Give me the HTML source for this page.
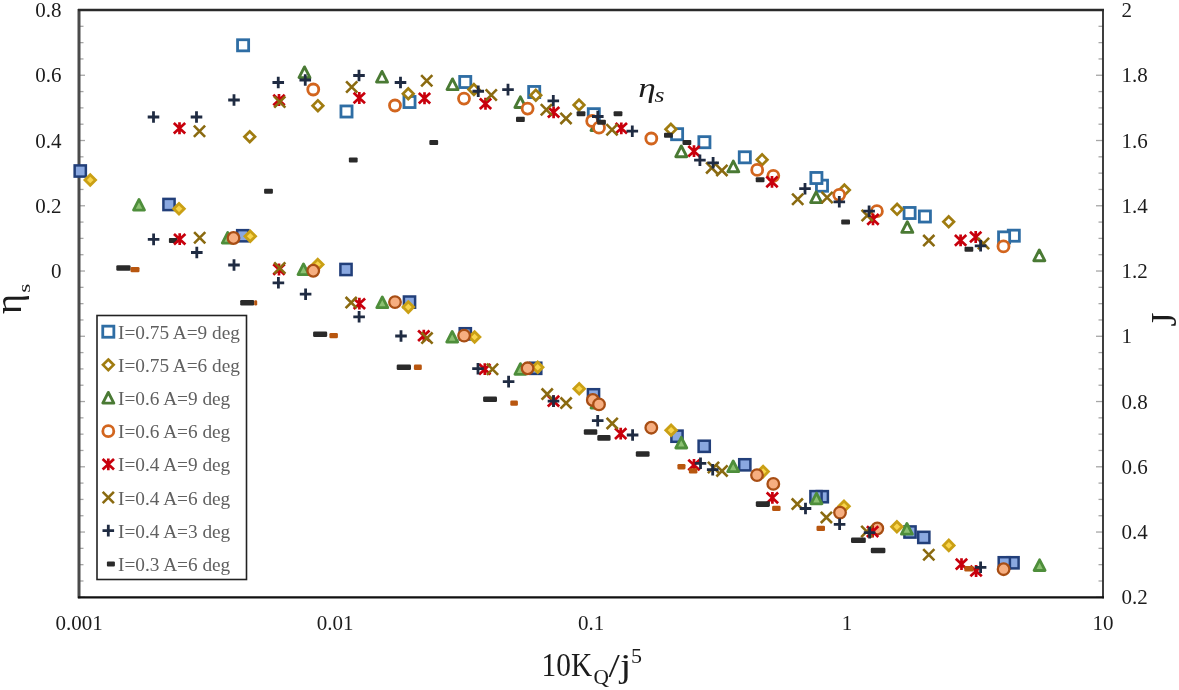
<!DOCTYPE html>
<html lang="en"><head><meta charset="utf-8"><title>Chart</title>
<style>
html,body{margin:0;padding:0;background:#fff;}
body{width:1179px;height:690px;overflow:hidden;}
svg{display:block;filter:blur(0.45px);}
text{font-family:"Liberation Serif","DejaVu Serif",serif;}
</style></head><body>
<svg width="1179" height="690" viewBox="0 0 1179 690">
<rect x="0" y="0" width="1179" height="690" fill="#ffffff"/>

<g stroke="#a6a6a6" stroke-width="1.3">
<line x1="79" y1="10.00" x2="85" y2="10.00"/>
<line x1="1096" y1="10.00" x2="1103" y2="10.00"/>
<line x1="79" y1="26.31" x2="83.5" y2="26.31"/>
<line x1="1098.5" y1="26.31" x2="1103" y2="26.31"/>
<line x1="79" y1="42.63" x2="83.5" y2="42.63"/>
<line x1="1098.5" y1="42.63" x2="1103" y2="42.63"/>
<line x1="79" y1="58.94" x2="83.5" y2="58.94"/>
<line x1="1098.5" y1="58.94" x2="1103" y2="58.94"/>
<line x1="79" y1="75.26" x2="85" y2="75.26"/>
<line x1="1096" y1="75.26" x2="1103" y2="75.26"/>
<line x1="79" y1="91.57" x2="83.5" y2="91.57"/>
<line x1="1098.5" y1="91.57" x2="1103" y2="91.57"/>
<line x1="79" y1="107.88" x2="83.5" y2="107.88"/>
<line x1="1098.5" y1="107.88" x2="1103" y2="107.88"/>
<line x1="79" y1="124.20" x2="83.5" y2="124.20"/>
<line x1="1098.5" y1="124.20" x2="1103" y2="124.20"/>
<line x1="79" y1="140.51" x2="85" y2="140.51"/>
<line x1="1096" y1="140.51" x2="1103" y2="140.51"/>
<line x1="79" y1="156.82" x2="83.5" y2="156.82"/>
<line x1="1098.5" y1="156.82" x2="1103" y2="156.82"/>
<line x1="79" y1="173.14" x2="83.5" y2="173.14"/>
<line x1="1098.5" y1="173.14" x2="1103" y2="173.14"/>
<line x1="79" y1="189.45" x2="83.5" y2="189.45"/>
<line x1="1098.5" y1="189.45" x2="1103" y2="189.45"/>
<line x1="79" y1="205.77" x2="85" y2="205.77"/>
<line x1="1096" y1="205.77" x2="1103" y2="205.77"/>
<line x1="79" y1="222.08" x2="83.5" y2="222.08"/>
<line x1="1098.5" y1="222.08" x2="1103" y2="222.08"/>
<line x1="79" y1="238.39" x2="83.5" y2="238.39"/>
<line x1="1098.5" y1="238.39" x2="1103" y2="238.39"/>
<line x1="79" y1="254.71" x2="83.5" y2="254.71"/>
<line x1="1098.5" y1="254.71" x2="1103" y2="254.71"/>
<line x1="79" y1="271.02" x2="85" y2="271.02"/>
<line x1="1096" y1="271.02" x2="1103" y2="271.02"/>
<line x1="79" y1="287.34" x2="83.5" y2="287.34"/>
<line x1="1098.5" y1="287.34" x2="1103" y2="287.34"/>
<line x1="79" y1="303.65" x2="83.5" y2="303.65"/>
<line x1="1098.5" y1="303.65" x2="1103" y2="303.65"/>
<line x1="79" y1="319.96" x2="83.5" y2="319.96"/>
<line x1="1098.5" y1="319.96" x2="1103" y2="319.96"/>
<line x1="79" y1="336.28" x2="85" y2="336.28"/>
<line x1="1096" y1="336.28" x2="1103" y2="336.28"/>
<line x1="79" y1="352.59" x2="83.5" y2="352.59"/>
<line x1="1098.5" y1="352.59" x2="1103" y2="352.59"/>
<line x1="79" y1="368.91" x2="83.5" y2="368.91"/>
<line x1="1098.5" y1="368.91" x2="1103" y2="368.91"/>
<line x1="79" y1="385.22" x2="83.5" y2="385.22"/>
<line x1="1098.5" y1="385.22" x2="1103" y2="385.22"/>
<line x1="79" y1="401.53" x2="85" y2="401.53"/>
<line x1="1096" y1="401.53" x2="1103" y2="401.53"/>
<line x1="79" y1="417.85" x2="83.5" y2="417.85"/>
<line x1="1098.5" y1="417.85" x2="1103" y2="417.85"/>
<line x1="79" y1="434.16" x2="83.5" y2="434.16"/>
<line x1="1098.5" y1="434.16" x2="1103" y2="434.16"/>
<line x1="79" y1="450.47" x2="83.5" y2="450.47"/>
<line x1="1098.5" y1="450.47" x2="1103" y2="450.47"/>
<line x1="79" y1="466.79" x2="85" y2="466.79"/>
<line x1="1096" y1="466.79" x2="1103" y2="466.79"/>
<line x1="79" y1="483.10" x2="83.5" y2="483.10"/>
<line x1="1098.5" y1="483.10" x2="1103" y2="483.10"/>
<line x1="79" y1="499.42" x2="83.5" y2="499.42"/>
<line x1="1098.5" y1="499.42" x2="1103" y2="499.42"/>
<line x1="79" y1="515.73" x2="83.5" y2="515.73"/>
<line x1="1098.5" y1="515.73" x2="1103" y2="515.73"/>
<line x1="79" y1="532.04" x2="85" y2="532.04"/>
<line x1="1096" y1="532.04" x2="1103" y2="532.04"/>
<line x1="79" y1="548.36" x2="83.5" y2="548.36"/>
<line x1="1098.5" y1="548.36" x2="1103" y2="548.36"/>
<line x1="79" y1="564.67" x2="83.5" y2="564.67"/>
<line x1="1098.5" y1="564.67" x2="1103" y2="564.67"/>
<line x1="79" y1="580.99" x2="83.5" y2="580.99"/>
<line x1="1098.5" y1="580.99" x2="1103" y2="580.99"/>
<line x1="79" y1="597.30" x2="85" y2="597.30"/>
<line x1="1096" y1="597.30" x2="1103" y2="597.30"/>
</g>
<line x1="79" y1="9" x2="79" y2="598.3" stroke="#4a4a4a" stroke-width="3"/>
<line x1="78" y1="10" x2="1104" y2="10" stroke="#2a2a2a" stroke-width="2.3"/>
<line x1="1103" y1="9" x2="1103" y2="598.3" stroke="#2a2a2a" stroke-width="1.8"/>
<line x1="78" y1="597.3" x2="1104" y2="597.3" stroke="#111" stroke-width="2.2"/>
<g font-size="21" fill="#1c1c1c">
<text x="61.5" y="17.0" text-anchor="end">0.8</text>
<text x="61.5" y="82.3" text-anchor="end">0.6</text>
<text x="61.5" y="147.5" text-anchor="end">0.4</text>
<text x="61.5" y="212.8" text-anchor="end">0.2</text>
<text x="61.5" y="278.0" text-anchor="end">0</text>
<text x="1121.5" y="17.0">2</text>
<text x="1121.5" y="82.3">1.8</text>
<text x="1121.5" y="147.5">1.6</text>
<text x="1121.5" y="212.8">1.4</text>
<text x="1121.5" y="278.0">1.2</text>
<text x="1121.5" y="343.3">1</text>
<text x="1121.5" y="408.5">0.8</text>
<text x="1121.5" y="473.8">0.6</text>
<text x="1121.5" y="539.0">0.4</text>
<text x="1121.5" y="604.3">0.2</text>
<text x="79" y="630" text-anchor="middle">0.001</text>
<text x="335" y="630" text-anchor="middle">0.01</text>
<text x="591" y="630" text-anchor="middle">0.1</text>
<text x="847" y="630" text-anchor="middle">1</text>
<text x="1103" y="630" text-anchor="middle">10</text>
</g>
<text transform="translate(20.8,314.1) rotate(-90)" font-size="38.5" fill="#1c1c1c">η</text>
<text transform="translate(30.3,292.8) rotate(-90) scale(1.35,1)" font-size="17.5" fill="#1c1c1c">s</text>
<text transform="translate(1176,326.5) rotate(-90)" font-size="36" fill="#1c1c1c">J</text>
<text x="541.6" y="676.3" font-size="33" fill="#1c1c1c" textLength="50.5" lengthAdjust="spacingAndGlyphs">10K</text>
<text x="593.6" y="684" font-size="22" fill="#1c1c1c" textLength="15.4" lengthAdjust="spacingAndGlyphs">Q</text>
<text x="608.6" y="676.6" font-size="34" fill="#1c1c1c" textLength="22.6" lengthAdjust="spacingAndGlyphs">/j</text>
<text x="631" y="663.1" font-size="22" fill="#1c1c1c">5</text>
<text x="638.2" y="96.8" font-size="28" font-style="italic" fill="#1c1c1c" textLength="17.5" lengthAdjust="spacingAndGlyphs">η</text>
<text x="654.6" y="102" font-size="22" font-style="italic" fill="#1c1c1c" textLength="10" lengthAdjust="spacingAndGlyphs">s</text>
<g id="upper">
<rect x="237.55" y="39.75" width="11.1" height="11.1" fill="#fff" stroke="#2e6da4" stroke-width="2.8"/>
<rect x="340.95" y="105.95" width="11.1" height="11.1" fill="#fff" stroke="#2e6da4" stroke-width="2.8"/>
<rect x="403.95" y="96.45" width="11.1" height="11.1" fill="#fff" stroke="#2e6da4" stroke-width="2.8"/>
<rect x="459.70" y="76.45" width="11.1" height="11.1" fill="#fff" stroke="#2e6da4" stroke-width="2.8"/>
<rect x="528.65" y="86.45" width="11.1" height="11.1" fill="#fff" stroke="#2e6da4" stroke-width="2.8"/>
<rect x="588.25" y="108.65" width="11.1" height="11.1" fill="#fff" stroke="#2e6da4" stroke-width="2.8"/>
<rect x="671.55" y="128.65" width="11.1" height="11.1" fill="#fff" stroke="#2e6da4" stroke-width="2.8"/>
<rect x="698.85" y="136.65" width="11.1" height="11.1" fill="#fff" stroke="#2e6da4" stroke-width="2.8"/>
<rect x="739.25" y="151.75" width="11.1" height="11.1" fill="#fff" stroke="#2e6da4" stroke-width="2.8"/>
<rect x="816.45" y="180.15" width="11.1" height="11.1" fill="#fff" stroke="#2e6da4" stroke-width="2.8"/>
<rect x="810.85" y="172.45" width="11.1" height="11.1" fill="#fff" stroke="#2e6da4" stroke-width="2.8"/>
<rect x="904.05" y="207.45" width="11.1" height="11.1" fill="#fff" stroke="#2e6da4" stroke-width="2.8"/>
<rect x="919.35" y="210.95" width="11.1" height="11.1" fill="#fff" stroke="#2e6da4" stroke-width="2.8"/>
<rect x="1008.25" y="230.15" width="11.1" height="11.1" fill="#fff" stroke="#2e6da4" stroke-width="2.8"/>
<rect x="998.55" y="231.85" width="11.1" height="11.1" fill="#fff" stroke="#2e6da4" stroke-width="2.8"/>
<polygon points="249.75,131.45 255.05,136.75 249.75,142.05 244.45,136.75" fill="#fff" stroke="#a07c10" stroke-width="2.7"/>
<polygon points="317.90,100.40 323.20,105.70 317.90,111.00 312.60,105.70" fill="#fff" stroke="#a07c10" stroke-width="2.7"/>
<polygon points="408.25,88.45 413.55,93.75 408.25,99.05 402.95,93.75" fill="#fff" stroke="#a07c10" stroke-width="2.7"/>
<polygon points="473.90,84.20 479.20,89.50 473.90,94.80 468.60,89.50" fill="#fff" stroke="#a07c10" stroke-width="2.7"/>
<polygon points="535.80,89.90 541.10,95.20 535.80,100.50 530.50,95.20" fill="#fff" stroke="#a07c10" stroke-width="2.7"/>
<polygon points="579.00,99.70 584.30,105.00 579.00,110.30 573.70,105.00" fill="#fff" stroke="#a07c10" stroke-width="2.7"/>
<polygon points="670.90,124.00 676.20,129.30 670.90,134.60 665.60,129.30" fill="#fff" stroke="#a07c10" stroke-width="2.7"/>
<polygon points="762.10,154.40 767.40,159.70 762.10,165.00 756.80,159.70" fill="#fff" stroke="#a07c10" stroke-width="2.7"/>
<polygon points="844.40,184.70 849.70,190.00 844.40,195.30 839.10,190.00" fill="#fff" stroke="#a07c10" stroke-width="2.7"/>
<polygon points="897.10,204.00 902.40,209.30 897.10,214.60 891.80,209.30" fill="#fff" stroke="#a07c10" stroke-width="2.7"/>
<polygon points="948.70,216.50 954.00,221.80 948.70,227.10 943.40,221.80" fill="#fff" stroke="#a07c10" stroke-width="2.7"/>
<polygon points="304.50,66.90 310.00,77.60 299.00,77.60" fill="#fff" stroke="#4a7a34" stroke-width="2.9" stroke-linejoin="round"/>
<polygon points="382.00,71.40 387.50,82.10 376.50,82.10" fill="#fff" stroke="#4a7a34" stroke-width="2.9" stroke-linejoin="round"/>
<polygon points="452.50,78.90 458.00,89.60 447.00,89.60" fill="#fff" stroke="#4a7a34" stroke-width="2.9" stroke-linejoin="round"/>
<polygon points="520.40,96.80 525.90,107.50 514.90,107.50" fill="#fff" stroke="#4a7a34" stroke-width="2.9" stroke-linejoin="round"/>
<polygon points="596.50,119.90 602.00,130.60 591.00,130.60" fill="#fff" stroke="#4a7a34" stroke-width="2.9" stroke-linejoin="round"/>
<polygon points="681.30,146.00 686.80,156.70 675.80,156.70" fill="#fff" stroke="#4a7a34" stroke-width="2.9" stroke-linejoin="round"/>
<polygon points="733.30,161.10 738.80,171.80 727.80,171.80" fill="#fff" stroke="#4a7a34" stroke-width="2.9" stroke-linejoin="round"/>
<polygon points="816.10,191.90 821.60,202.60 810.60,202.60" fill="#fff" stroke="#4a7a34" stroke-width="2.9" stroke-linejoin="round"/>
<polygon points="907.30,221.70 912.80,232.40 901.80,232.40" fill="#fff" stroke="#4a7a34" stroke-width="2.9" stroke-linejoin="round"/>
<polygon points="1039.30,250.00 1044.80,260.70 1033.80,260.70" fill="#fff" stroke="#4a7a34" stroke-width="2.9" stroke-linejoin="round"/>
<circle cx="313.25" cy="89.50" r="5.5" fill="#fff" stroke="#d2651e" stroke-width="2.8"/>
<circle cx="395.00" cy="105.50" r="5.5" fill="#fff" stroke="#d2651e" stroke-width="2.8"/>
<circle cx="464.00" cy="98.60" r="5.5" fill="#fff" stroke="#d2651e" stroke-width="2.8"/>
<circle cx="527.60" cy="108.60" r="5.5" fill="#fff" stroke="#d2651e" stroke-width="2.8"/>
<circle cx="592.20" cy="121.00" r="5.5" fill="#fff" stroke="#d2651e" stroke-width="2.8"/>
<circle cx="599.00" cy="127.70" r="5.5" fill="#fff" stroke="#d2651e" stroke-width="2.8"/>
<circle cx="651.30" cy="138.50" r="5.5" fill="#fff" stroke="#d2651e" stroke-width="2.8"/>
<circle cx="757.20" cy="169.90" r="5.5" fill="#fff" stroke="#d2651e" stroke-width="2.8"/>
<circle cx="773.30" cy="175.80" r="5.5" fill="#fff" stroke="#d2651e" stroke-width="2.8"/>
<circle cx="839.20" cy="194.80" r="5.5" fill="#fff" stroke="#d2651e" stroke-width="2.8"/>
<circle cx="876.90" cy="211.20" r="5.5" fill="#fff" stroke="#d2651e" stroke-width="2.8"/>
<circle cx="1003.50" cy="246.40" r="5.5" fill="#fff" stroke="#d2651e" stroke-width="2.8"/>
<path d="M173.80,122.95L185.20,133.55M173.80,133.55L185.20,122.95M179.50,122.35L179.50,134.15" stroke="#c8000c" stroke-width="2.7" fill="none"/>
<path d="M273.30,94.70L284.70,105.30M273.30,105.30L284.70,94.70M279.00,94.10L279.00,105.90" stroke="#c8000c" stroke-width="2.7" fill="none"/>
<path d="M353.60,92.70L365.00,103.30M353.60,103.30L365.00,92.70M359.30,92.10L359.30,103.90" stroke="#c8000c" stroke-width="2.7" fill="none"/>
<path d="M418.80,92.95L430.20,103.55M418.80,103.55L430.20,92.95M424.50,92.35L424.50,104.15" stroke="#c8000c" stroke-width="2.7" fill="none"/>
<path d="M479.80,98.45L491.20,109.05M479.80,109.05L491.20,98.45M485.50,97.85L485.50,109.65" stroke="#c8000c" stroke-width="2.7" fill="none"/>
<path d="M547.90,107.00L559.30,117.60M547.90,117.60L559.30,107.00M553.60,106.40L553.60,118.20" stroke="#c8000c" stroke-width="2.7" fill="none"/>
<path d="M615.60,123.00L627.00,133.60M615.60,133.60L627.00,123.00M621.30,122.40L621.30,134.20" stroke="#c8000c" stroke-width="2.7" fill="none"/>
<path d="M688.30,145.90L699.70,156.50M688.30,156.50L699.70,145.90M694.00,145.30L694.00,157.10" stroke="#c8000c" stroke-width="2.7" fill="none"/>
<path d="M766.30,176.60L777.70,187.20M766.30,187.20L777.70,176.60M772.00,176.00L772.00,187.80" stroke="#c8000c" stroke-width="2.7" fill="none"/>
<path d="M867.30,214.10L878.70,224.70M867.30,224.70L878.70,214.10M873.00,213.50L873.00,225.30" stroke="#c8000c" stroke-width="2.7" fill="none"/>
<path d="M954.90,235.10L966.30,245.70M954.90,245.70L966.30,235.10M960.60,234.50L960.60,246.30" stroke="#c8000c" stroke-width="2.7" fill="none"/>
<path d="M970.00,231.70L981.40,242.30M970.00,242.30L981.40,231.70M975.70,231.10L975.70,242.90" stroke="#c8000c" stroke-width="2.7" fill="none"/>
<path d="M193.90,125.65L205.10,136.85M193.90,136.85L205.10,125.65" stroke="#8a6a10" stroke-width="2.6" fill="none"/>
<path d="M274.15,96.40L285.35,107.60M274.15,107.60L285.35,96.40" stroke="#8a6a10" stroke-width="2.6" fill="none"/>
<path d="M346.10,81.40L357.30,92.60M346.10,92.60L357.30,81.40" stroke="#8a6a10" stroke-width="2.6" fill="none"/>
<path d="M421.15,75.15L432.35,86.35M421.15,86.35L432.35,75.15" stroke="#8a6a10" stroke-width="2.6" fill="none"/>
<path d="M485.65,89.40L496.85,100.60M485.65,100.60L496.85,89.40" stroke="#8a6a10" stroke-width="2.6" fill="none"/>
<path d="M540.80,104.20L552.00,115.40M540.80,115.40L552.00,104.20" stroke="#8a6a10" stroke-width="2.6" fill="none"/>
<path d="M560.40,112.80L571.60,124.00M560.40,124.00L571.60,112.80" stroke="#8a6a10" stroke-width="2.6" fill="none"/>
<path d="M606.40,124.20L617.60,135.40M606.40,135.40L617.60,124.20" stroke="#8a6a10" stroke-width="2.6" fill="none"/>
<path d="M706.10,162.30L717.30,173.50M706.10,173.50L717.30,162.30" stroke="#8a6a10" stroke-width="2.6" fill="none"/>
<path d="M716.30,164.80L727.50,176.00M716.30,176.00L727.50,164.80" stroke="#8a6a10" stroke-width="2.6" fill="none"/>
<path d="M792.10,193.60L803.30,204.80M792.10,204.80L803.30,193.60" stroke="#8a6a10" stroke-width="2.6" fill="none"/>
<path d="M821.50,191.90L832.70,203.10M821.50,203.10L832.70,191.90" stroke="#8a6a10" stroke-width="2.6" fill="none"/>
<path d="M861.60,209.90L872.80,221.10M861.60,221.10L872.80,209.90" stroke="#8a6a10" stroke-width="2.6" fill="none"/>
<path d="M923.20,235.00L934.40,246.20M923.20,246.20L934.40,235.00" stroke="#8a6a10" stroke-width="2.6" fill="none"/>
<path d="M977.90,237.90L989.10,249.10M977.90,249.10L989.10,237.90" stroke="#8a6a10" stroke-width="2.6" fill="none"/>
<path d="M147.70,117.00L159.30,117.00M153.50,111.20L153.50,122.80" stroke="#1f2b42" stroke-width="2.8" fill="none"/>
<path d="M190.70,117.00L202.30,117.00M196.50,111.20L196.50,122.80" stroke="#1f2b42" stroke-width="2.8" fill="none"/>
<path d="M228.20,100.00L239.80,100.00M234.00,94.20L234.00,105.80" stroke="#1f2b42" stroke-width="2.8" fill="none"/>
<path d="M272.45,82.50L284.05,82.50M278.25,76.70L278.25,88.30" stroke="#1f2b42" stroke-width="2.8" fill="none"/>
<path d="M299.45,80.00L311.05,80.00M305.25,74.20L305.25,85.80" stroke="#1f2b42" stroke-width="2.8" fill="none"/>
<path d="M353.20,75.50L364.80,75.50M359.00,69.70L359.00,81.30" stroke="#1f2b42" stroke-width="2.8" fill="none"/>
<path d="M394.70,82.50L406.30,82.50M400.50,76.70L400.50,88.30" stroke="#1f2b42" stroke-width="2.8" fill="none"/>
<path d="M472.45,91.25L484.05,91.25M478.25,85.45L478.25,97.05" stroke="#1f2b42" stroke-width="2.8" fill="none"/>
<path d="M502.20,89.60L513.80,89.60M508.00,83.80L508.00,95.40" stroke="#1f2b42" stroke-width="2.8" fill="none"/>
<path d="M547.50,100.80L559.10,100.80M553.30,95.00L553.30,106.60" stroke="#1f2b42" stroke-width="2.8" fill="none"/>
<path d="M592.00,116.50L603.60,116.50M597.80,110.70L597.80,122.30" stroke="#1f2b42" stroke-width="2.8" fill="none"/>
<path d="M626.50,131.20L638.10,131.20M632.30,125.40L632.30,137.00" stroke="#1f2b42" stroke-width="2.8" fill="none"/>
<path d="M694.10,160.20L705.70,160.20M699.90,154.40L699.90,166.00" stroke="#1f2b42" stroke-width="2.8" fill="none"/>
<path d="M707.30,162.80L718.90,162.80M713.10,157.00L713.10,168.60" stroke="#1f2b42" stroke-width="2.8" fill="none"/>
<path d="M799.20,188.70L810.80,188.70M805.00,182.90L805.00,194.50" stroke="#1f2b42" stroke-width="2.8" fill="none"/>
<path d="M833.50,201.80L845.10,201.80M839.30,196.00L839.30,207.60" stroke="#1f2b42" stroke-width="2.8" fill="none"/>
<path d="M863.30,211.20L874.90,211.20M869.10,205.40L869.10,217.00" stroke="#1f2b42" stroke-width="2.8" fill="none"/>
<path d="M974.80,245.80L986.40,245.80M980.60,240.00L980.60,251.60" stroke="#1f2b42" stroke-width="2.8" fill="none"/>
<rect x="264.10" y="188.70" width="8.8" height="5.1" rx="1" fill="#2a2a2a"/>
<rect x="348.85" y="157.45" width="8.8" height="5.1" rx="1" fill="#2a2a2a"/>
<rect x="429.35" y="139.95" width="8.8" height="5.1" rx="1" fill="#2a2a2a"/>
<rect x="516.00" y="116.85" width="8.8" height="5.1" rx="1" fill="#2a2a2a"/>
<rect x="576.60" y="111.25" width="8.8" height="5.1" rx="1" fill="#2a2a2a"/>
<rect x="597.10" y="119.65" width="8.8" height="5.1" rx="1" fill="#2a2a2a"/>
<rect x="613.60" y="111.25" width="8.8" height="5.1" rx="1" fill="#2a2a2a"/>
<rect x="664.00" y="132.65" width="8.8" height="5.1" rx="1" fill="#2a2a2a"/>
<rect x="682.50" y="139.95" width="8.8" height="5.1" rx="1" fill="#2a2a2a"/>
<rect x="755.70" y="177.15" width="8.8" height="5.1" rx="1" fill="#2a2a2a"/>
<rect x="841.20" y="219.45" width="8.8" height="5.1" rx="1" fill="#2a2a2a"/>
<rect x="964.50" y="246.65" width="8.8" height="5.1" rx="1" fill="#2a2a2a"/>
</g>
<g id="lower">
<rect x="74.65" y="165.40" width="11.2" height="11.2" fill="#8aa8e0" stroke="#223f7a" stroke-width="2.5"/>
<rect x="163.40" y="198.90" width="11.2" height="11.2" fill="#8aa8e0" stroke="#223f7a" stroke-width="2.5"/>
<rect x="237.15" y="230.15" width="11.2" height="11.2" fill="#8aa8e0" stroke="#223f7a" stroke-width="2.5"/>
<rect x="340.40" y="263.90" width="11.2" height="11.2" fill="#8aa8e0" stroke="#223f7a" stroke-width="2.5"/>
<rect x="403.90" y="296.50" width="11.2" height="11.2" fill="#8aa8e0" stroke="#223f7a" stroke-width="2.5"/>
<rect x="459.70" y="328.20" width="11.2" height="11.2" fill="#8aa8e0" stroke="#223f7a" stroke-width="2.5"/>
<rect x="530.10" y="362.70" width="11.2" height="11.2" fill="#8aa8e0" stroke="#223f7a" stroke-width="2.5"/>
<rect x="587.90" y="389.20" width="11.2" height="11.2" fill="#8aa8e0" stroke="#223f7a" stroke-width="2.5"/>
<rect x="671.40" y="430.60" width="11.2" height="11.2" fill="#8aa8e0" stroke="#223f7a" stroke-width="2.5"/>
<rect x="698.60" y="440.70" width="11.2" height="11.2" fill="#8aa8e0" stroke="#223f7a" stroke-width="2.5"/>
<rect x="739.20" y="459.20" width="11.2" height="11.2" fill="#8aa8e0" stroke="#223f7a" stroke-width="2.5"/>
<rect x="816.70" y="491.10" width="11.2" height="11.2" fill="#8aa8e0" stroke="#223f7a" stroke-width="2.5"/>
<rect x="810.40" y="491.10" width="11.2" height="11.2" fill="#8aa8e0" stroke="#223f7a" stroke-width="2.5"/>
<rect x="904.40" y="526.40" width="11.2" height="11.2" fill="#8aa8e0" stroke="#223f7a" stroke-width="2.5"/>
<rect x="918.20" y="531.80" width="11.2" height="11.2" fill="#8aa8e0" stroke="#223f7a" stroke-width="2.5"/>
<rect x="1007.40" y="557.20" width="11.2" height="11.2" fill="#8aa8e0" stroke="#223f7a" stroke-width="2.5"/>
<rect x="998.70" y="557.20" width="11.2" height="11.2" fill="#8aa8e0" stroke="#223f7a" stroke-width="2.5"/>
<polygon points="90.25,174.70 95.55,180.00 90.25,185.30 84.95,180.00" fill="#f8d44c" stroke="#caa015" stroke-width="2.8"/>
<polygon points="179.00,203.45 184.30,208.75 179.00,214.05 173.70,208.75" fill="#f8d44c" stroke="#caa015" stroke-width="2.8"/>
<polygon points="250.25,230.95 255.55,236.25 250.25,241.55 244.95,236.25" fill="#f8d44c" stroke="#caa015" stroke-width="2.8"/>
<polygon points="317.75,259.20 323.05,264.50 317.75,269.80 312.45,264.50" fill="#f8d44c" stroke="#caa015" stroke-width="2.8"/>
<polygon points="408.30,301.80 413.60,307.10 408.30,312.40 403.00,307.10" fill="#f8d44c" stroke="#caa015" stroke-width="2.8"/>
<polygon points="474.60,331.70 479.90,337.00 474.60,342.30 469.30,337.00" fill="#f8d44c" stroke="#caa015" stroke-width="2.8"/>
<polygon points="537.70,361.90 543.00,367.20 537.70,372.50 532.40,367.20" fill="#f8d44c" stroke="#caa015" stroke-width="2.8"/>
<polygon points="579.20,383.40 584.50,388.70 579.20,394.00 573.90,388.70" fill="#f8d44c" stroke="#caa015" stroke-width="2.8"/>
<polygon points="671.10,424.90 676.40,430.20 671.10,435.50 665.80,430.20" fill="#f8d44c" stroke="#caa015" stroke-width="2.8"/>
<polygon points="763.10,466.30 768.40,471.60 763.10,476.90 757.80,471.60" fill="#f8d44c" stroke="#caa015" stroke-width="2.8"/>
<polygon points="844.00,501.00 849.30,506.30 844.00,511.60 838.70,506.30" fill="#f8d44c" stroke="#caa015" stroke-width="2.8"/>
<polygon points="896.90,521.50 902.20,526.80 896.90,532.10 891.60,526.80" fill="#f8d44c" stroke="#caa015" stroke-width="2.8"/>
<polygon points="948.80,540.10 954.10,545.40 948.80,550.70 943.50,545.40" fill="#f8d44c" stroke="#caa015" stroke-width="2.8"/>
<polygon points="139.00,199.40 144.50,210.10 133.50,210.10" fill="#8cc172" stroke="#4e8e3b" stroke-width="2.8" stroke-linejoin="round"/>
<polygon points="227.75,232.40 233.25,243.10 222.25,243.10" fill="#8cc172" stroke="#4e8e3b" stroke-width="2.8" stroke-linejoin="round"/>
<polygon points="303.50,263.90 309.00,274.60 298.00,274.60" fill="#8cc172" stroke="#4e8e3b" stroke-width="2.8" stroke-linejoin="round"/>
<polygon points="382.30,297.00 387.80,307.70 376.80,307.70" fill="#8cc172" stroke="#4e8e3b" stroke-width="2.8" stroke-linejoin="round"/>
<polygon points="452.20,331.40 457.70,342.10 446.70,342.10" fill="#8cc172" stroke="#4e8e3b" stroke-width="2.8" stroke-linejoin="round"/>
<polygon points="520.40,363.60 525.90,374.30 514.90,374.30" fill="#8cc172" stroke="#4e8e3b" stroke-width="2.8" stroke-linejoin="round"/>
<polygon points="596.50,397.40 602.00,408.10 591.00,408.10" fill="#8cc172" stroke="#4e8e3b" stroke-width="2.8" stroke-linejoin="round"/>
<polygon points="681.30,437.30 686.80,448.00 675.80,448.00" fill="#8cc172" stroke="#4e8e3b" stroke-width="2.8" stroke-linejoin="round"/>
<polygon points="733.20,461.00 738.70,471.70 727.70,471.70" fill="#8cc172" stroke="#4e8e3b" stroke-width="2.8" stroke-linejoin="round"/>
<polygon points="816.50,493.10 822.00,503.80 811.00,503.80" fill="#8cc172" stroke="#4e8e3b" stroke-width="2.8" stroke-linejoin="round"/>
<polygon points="906.90,523.50 912.40,534.20 901.40,534.20" fill="#8cc172" stroke="#4e8e3b" stroke-width="2.8" stroke-linejoin="round"/>
<polygon points="1039.60,559.80 1045.10,570.50 1034.10,570.50" fill="#8cc172" stroke="#4e8e3b" stroke-width="2.8" stroke-linejoin="round"/>
<circle cx="233.50" cy="238.00" r="5.8" fill="#f6ae80" stroke="#a84e14" stroke-width="2.3"/>
<circle cx="313.25" cy="270.75" r="5.8" fill="#f6ae80" stroke="#a84e14" stroke-width="2.3"/>
<circle cx="395.00" cy="302.10" r="5.8" fill="#f6ae80" stroke="#a84e14" stroke-width="2.3"/>
<circle cx="464.10" cy="335.60" r="5.8" fill="#f6ae80" stroke="#a84e14" stroke-width="2.3"/>
<circle cx="527.60" cy="368.30" r="5.8" fill="#f6ae80" stroke="#a84e14" stroke-width="2.3"/>
<circle cx="592.80" cy="400.00" r="5.8" fill="#f6ae80" stroke="#a84e14" stroke-width="2.3"/>
<circle cx="599.00" cy="404.40" r="5.8" fill="#f6ae80" stroke="#a84e14" stroke-width="2.3"/>
<circle cx="651.30" cy="427.70" r="5.8" fill="#f6ae80" stroke="#a84e14" stroke-width="2.3"/>
<circle cx="757.00" cy="475.10" r="5.8" fill="#f6ae80" stroke="#a84e14" stroke-width="2.3"/>
<circle cx="773.30" cy="483.90" r="5.8" fill="#f6ae80" stroke="#a84e14" stroke-width="2.3"/>
<circle cx="840.00" cy="512.60" r="5.8" fill="#f6ae80" stroke="#a84e14" stroke-width="2.3"/>
<circle cx="877.30" cy="528.50" r="5.8" fill="#f6ae80" stroke="#a84e14" stroke-width="2.3"/>
<circle cx="1003.60" cy="569.20" r="5.8" fill="#f6ae80" stroke="#a84e14" stroke-width="2.3"/>
<rect x="168.90" y="237.95" width="8.8" height="5.1" rx="1" fill="#2a2a2a"/>
<path d="M174.00,233.90L185.40,244.50M174.00,244.50L185.40,233.90M179.70,233.30L179.70,245.10" stroke="#c8000c" stroke-width="2.7" fill="none"/>
<path d="M273.30,264.20L284.70,274.80M273.30,274.80L284.70,264.20M279.00,263.60L279.00,275.40" stroke="#c8000c" stroke-width="2.7" fill="none"/>
<path d="M353.70,298.40L365.10,309.00M353.70,309.00L365.10,298.40M359.40,297.80L359.40,309.60" stroke="#c8000c" stroke-width="2.7" fill="none"/>
<path d="M418.10,330.40L429.50,341.00M418.10,341.00L429.50,330.40M423.80,329.80L423.80,341.60" stroke="#c8000c" stroke-width="2.7" fill="none"/>
<path d="M479.10,363.90L490.50,374.50M479.10,374.50L490.50,363.90M484.80,363.30L484.80,375.10" stroke="#c8000c" stroke-width="2.7" fill="none"/>
<path d="M547.80,395.80L559.20,406.40M547.80,406.40L559.20,395.80M553.50,395.20L553.50,407.00" stroke="#c8000c" stroke-width="2.7" fill="none"/>
<path d="M615.00,428.30L626.40,438.90M615.00,438.90L626.40,428.30M620.70,427.70L620.70,439.50" stroke="#c8000c" stroke-width="2.7" fill="none"/>
<path d="M688.30,459.70L699.70,470.30M688.30,470.30L699.70,459.70M694.00,459.10L694.00,470.90" stroke="#c8000c" stroke-width="2.7" fill="none"/>
<path d="M766.70,492.60L778.10,503.20M766.70,503.20L778.10,492.60M772.40,492.00L772.40,503.80" stroke="#c8000c" stroke-width="2.7" fill="none"/>
<path d="M866.90,526.30L878.30,536.90M866.90,536.90L878.30,526.30M872.60,525.70L872.60,537.50" stroke="#c8000c" stroke-width="2.7" fill="none"/>
<path d="M955.80,558.80L967.20,569.40M955.80,569.40L967.20,558.80M961.50,558.20L961.50,570.00" stroke="#c8000c" stroke-width="2.7" fill="none"/>
<path d="M970.40,565.70L981.80,576.30M970.40,576.30L981.80,565.70M976.10,565.10L976.10,576.90" stroke="#c8000c" stroke-width="2.7" fill="none"/>
<path d="M194.10,232.10L205.30,243.30M194.10,243.30L205.30,232.10" stroke="#8a6a10" stroke-width="2.6" fill="none"/>
<path d="M274.15,262.40L285.35,273.60M274.15,273.60L285.35,262.40" stroke="#8a6a10" stroke-width="2.6" fill="none"/>
<path d="M345.60,297.00L356.80,308.20M345.60,308.20L356.80,297.00" stroke="#8a6a10" stroke-width="2.6" fill="none"/>
<path d="M421.40,332.50L432.60,343.70M421.40,343.70L432.60,332.50" stroke="#8a6a10" stroke-width="2.6" fill="none"/>
<path d="M486.90,363.60L498.10,374.80M486.90,374.80L498.10,363.60" stroke="#8a6a10" stroke-width="2.6" fill="none"/>
<path d="M541.60,388.50L552.80,399.70M541.60,399.70L552.80,388.50" stroke="#8a6a10" stroke-width="2.6" fill="none"/>
<path d="M560.50,397.50L571.70,408.70M560.50,408.70L571.70,397.50" stroke="#8a6a10" stroke-width="2.6" fill="none"/>
<path d="M606.60,417.80L617.80,429.00M606.60,429.00L617.80,417.80" stroke="#8a6a10" stroke-width="2.6" fill="none"/>
<path d="M707.90,461.90L719.10,473.10M707.90,473.10L719.10,461.90" stroke="#8a6a10" stroke-width="2.6" fill="none"/>
<path d="M716.40,465.30L727.60,476.50M716.40,476.50L727.60,465.30" stroke="#8a6a10" stroke-width="2.6" fill="none"/>
<path d="M791.70,498.50L802.90,509.70M791.70,509.70L802.90,498.50" stroke="#8a6a10" stroke-width="2.6" fill="none"/>
<path d="M820.80,511.80L832.00,523.00M820.80,523.00L832.00,511.80" stroke="#8a6a10" stroke-width="2.6" fill="none"/>
<path d="M861.20,525.90L872.40,537.10M861.20,537.10L872.40,525.90" stroke="#8a6a10" stroke-width="2.6" fill="none"/>
<path d="M923.20,549.20L934.40,560.40M923.20,560.40L934.40,549.20" stroke="#8a6a10" stroke-width="2.6" fill="none"/>
<path d="M147.80,239.40L159.40,239.40M153.60,233.60L153.60,245.20" stroke="#1f2b42" stroke-width="2.8" fill="none"/>
<path d="M191.00,252.50L202.60,252.50M196.80,246.70L196.80,258.30" stroke="#1f2b42" stroke-width="2.8" fill="none"/>
<path d="M228.20,265.00L239.80,265.00M234.00,259.20L234.00,270.80" stroke="#1f2b42" stroke-width="2.8" fill="none"/>
<path d="M272.60,282.80L284.20,282.80M278.40,277.00L278.40,288.60" stroke="#1f2b42" stroke-width="2.8" fill="none"/>
<path d="M299.80,294.20L311.40,294.20M305.60,288.40L305.60,300.00" stroke="#1f2b42" stroke-width="2.8" fill="none"/>
<path d="M353.30,316.80L364.90,316.80M359.10,311.00L359.10,322.60" stroke="#1f2b42" stroke-width="2.8" fill="none"/>
<path d="M395.20,336.00L406.80,336.00M401.00,330.20L401.00,341.80" stroke="#1f2b42" stroke-width="2.8" fill="none"/>
<path d="M472.20,368.70L483.80,368.70M478.00,362.90L478.00,374.50" stroke="#1f2b42" stroke-width="2.8" fill="none"/>
<path d="M502.80,381.60L514.40,381.60M508.60,375.80L508.60,387.40" stroke="#1f2b42" stroke-width="2.8" fill="none"/>
<path d="M547.70,401.10L559.30,401.10M553.50,395.30L553.50,406.90" stroke="#1f2b42" stroke-width="2.8" fill="none"/>
<path d="M591.90,420.70L603.50,420.70M597.70,414.90L597.70,426.50" stroke="#1f2b42" stroke-width="2.8" fill="none"/>
<path d="M626.80,435.00L638.40,435.00M632.60,429.20L632.60,440.80" stroke="#1f2b42" stroke-width="2.8" fill="none"/>
<path d="M694.70,463.30L706.30,463.30M700.50,457.50L700.50,469.10" stroke="#1f2b42" stroke-width="2.8" fill="none"/>
<path d="M706.90,469.70L718.50,469.70M712.70,463.90L712.70,475.50" stroke="#1f2b42" stroke-width="2.8" fill="none"/>
<path d="M799.70,508.50L811.30,508.50M805.50,502.70L805.50,514.30" stroke="#1f2b42" stroke-width="2.8" fill="none"/>
<path d="M833.80,524.30L845.40,524.30M839.60,518.50L839.60,530.10" stroke="#1f2b42" stroke-width="2.8" fill="none"/>
<path d="M863.80,532.60L875.40,532.60M869.60,526.80L869.60,538.40" stroke="#1f2b42" stroke-width="2.8" fill="none"/>
<path d="M974.80,567.30L986.40,567.30M980.60,561.50L980.60,573.10" stroke="#1f2b42" stroke-width="2.8" fill="none"/>
<rect x="116.30" y="265.20" width="14.30" height="5.6" rx="1.3" fill="#2a2a2a"/>
<rect x="240.20" y="300.00" width="14.00" height="5.6" rx="1.3" fill="#2a2a2a"/>
<rect x="313.10" y="331.50" width="14.10" height="5.6" rx="1.3" fill="#2a2a2a"/>
<rect x="396.70" y="364.50" width="14.30" height="5.6" rx="1.3" fill="#2a2a2a"/>
<rect x="483.10" y="396.40" width="13.90" height="5.6" rx="1.3" fill="#2a2a2a"/>
<rect x="583.80" y="429.20" width="13.50" height="5.6" rx="1.3" fill="#2a2a2a"/>
<rect x="597.30" y="435.10" width="13.30" height="5.6" rx="1.3" fill="#2a2a2a"/>
<rect x="635.80" y="451.20" width="13.80" height="5.6" rx="1.3" fill="#2a2a2a"/>
<rect x="755.80" y="501.30" width="14.10" height="5.6" rx="1.3" fill="#2a2a2a"/>
<rect x="851.00" y="537.40" width="14.80" height="5.6" rx="1.3" fill="#2a2a2a"/>
<rect x="870.80" y="547.70" width="14.60" height="5.6" rx="1.3" fill="#2a2a2a"/>
<rect x="130.50" y="266.90" width="9.00" height="5.4" rx="1.3" fill="#b8560f"/>
<rect x="254.20" y="300.20" width="3.00" height="5.4" rx="1.3" fill="#b8560f"/>
<rect x="329.40" y="332.90" width="8.50" height="5.4" rx="1.3" fill="#b8560f"/>
<rect x="413.90" y="364.60" width="7.90" height="5.4" rx="1.3" fill="#b8560f"/>
<rect x="510.30" y="400.40" width="7.60" height="5.4" rx="1.3" fill="#b8560f"/>
<rect x="677.40" y="464.00" width="8.10" height="5.4" rx="1.3" fill="#b8560f"/>
<rect x="688.90" y="468.20" width="8.50" height="5.4" rx="1.3" fill="#b8560f"/>
<rect x="772.10" y="505.70" width="8.50" height="5.4" rx="1.3" fill="#b8560f"/>
<rect x="816.50" y="525.70" width="8.50" height="5.4" rx="1.3" fill="#b8560f"/>
<rect x="964.30" y="566.10" width="9.30" height="5.4" rx="1.3" fill="#b8560f"/>
</g>
<rect x="97" y="315.5" width="149.5" height="264" fill="#ffffff" stroke="#222" stroke-width="1.6"/>
<g font-size="19.3" fill="#606060">
<rect x="102.75" y="326.15" width="11.1" height="11.1" fill="#fff" stroke="#2e6da4" stroke-width="2.8"/>
<text x="118" y="338.8">I=0.75 A=9 deg</text>
<polygon points="108.30,359.55 113.60,364.85 108.30,370.15 103.00,364.85" fill="#fff" stroke="#a07c10" stroke-width="2.7"/>
<text x="118" y="371.9">I=0.75 A=6 deg</text>
<polygon points="108.30,392.40 113.80,403.10 102.80,403.10" fill="#fff" stroke="#4a7a34" stroke-width="2.9" stroke-linejoin="round"/>
<text x="118" y="405.1">I=0.6 A=9 deg</text>
<circle cx="108.30" cy="431.15" r="5.5" fill="#fff" stroke="#d2651e" stroke-width="2.8"/>
<text x="118" y="438.2">I=0.6 A=6 deg</text>
<path d="M102.60,459.00L114.00,469.60M102.60,469.60L114.00,459.00M108.30,458.40L108.30,470.20" stroke="#c8000c" stroke-width="2.7" fill="none"/>
<text x="118" y="471.4">I=0.4 A=9 deg</text>
<path d="M102.70,491.85L113.90,503.05M102.70,503.05L113.90,491.85" stroke="#8a6a10" stroke-width="2.6" fill="none"/>
<text x="118" y="504.6">I=0.4 A=6 deg</text>
<path d="M102.50,530.60L114.10,530.60M108.30,524.80L108.30,536.40" stroke="#1f2b42" stroke-width="2.8" fill="none"/>
<text x="118" y="537.7">I=0.4 A=3 deg</text>
<rect x="106.90" y="561.40" width="8" height="5.1" rx="1" fill="#2a2a2a"/>
<text x="118" y="570.8">I=0.3 A=6 deg</text>
</g>
</svg>
</body></html>
